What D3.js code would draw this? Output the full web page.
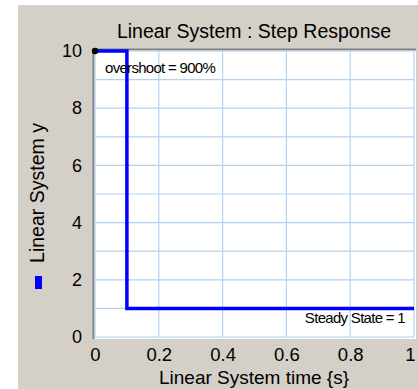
<!DOCTYPE html>
<html>
<head>
<meta charset="utf-8">
<script src="https://cdn.jsdelivr.net/npm/d3@7"></script>
<style>
  html, body { margin: 0; padding: 0; background: #ffffff; }
  svg { display: block; }
  text { font-family: "Liberation Sans", Arial, sans-serif; fill: #000; }
</style>
</head>
<body>
<svg id="chart" width="418" height="389"></svg>
<script>
// Step response of the linear system: value held until the step, then steady state
const timeValues = [0, 0.1, 0.1, 1.0];
const responseValues = [10, 10, 1, 1];
const xTicks = [0, 0.2, 0.4, 0.6, 0.8, 1];
const xTickLabels = ["0", "0.2", "0.4", "0.6", "0.8", "1"];
const yTicks = [0, 2, 4, 6, 8, 10];
const yGrid = [0, 1, 2, 3, 4, 5, 6, 7, 8, 9, 10];
const overshootPct = 900;
const steadyState = 1;

const svg = d3.select("#chart");
const W = 418, H = 389;

// window panel
svg.append("rect").attr("x", 18).attr("y", 5).attr("width", W - 18).attr("height", H - 5)
  .attr("fill", "#d4d0c8");

const x = d3.scaleLinear().domain([0, 1]).range([95, 414]);
const y = d3.scaleLinear().domain([0, 10]).range([337, 51]);

// plot frame (sunken)
const fx0 = 93, fy0 = 49, fx1 = 416, fy1 = 339;
svg.append("rect").attr("x", fx0).attr("y", fy0).attr("width", fx1 - fx0).attr("height", fy1 - fy0)
  .attr("fill", "#ffffff");
svg.append("path").attr("d", `M${fx0 + 0.5},${fy1} V${fy0 + 0.5} H${fx1}`)
  .attr("fill", "none").attr("stroke", "#808080").attr("stroke-width", 2);
svg.append("path").attr("d", `M${fx0 + 2},${fy1 - 0.5} H${fx1 - 0.5} V${fy0 + 2}`)
  .attr("fill", "none").attr("stroke", "#ffffff").attr("stroke-width", 1);

// grid
const grid = svg.append("g").attr("stroke", "#b4d2f0").attr("stroke-width", 1.2);
grid.selectAll("line.v").data(xTicks).join("line").attr("class", "v")
  .attr("x1", d => x(d)).attr("x2", d => x(d)).attr("y1", y(0)).attr("y2", y(10));
grid.selectAll("line.h").data(yGrid).join("line").attr("class", "h")
  .attr("x1", x(0)).attr("x2", x(1)).attr("y1", d => y(d)).attr("y2", d => y(d));

// axes
const xAxis = svg.append("g").attr("transform", `translate(0,${y(0)})`)
  .call(d3.axisBottom(x).tickValues(xTicks).tickFormat((d, i) => xTickLabels[i]).tickSize(0).tickPadding(11));
xAxis.select(".domain").remove();
xAxis.selectAll("text").style("font-size", "18.5px").attr("fill", "#000");
// last label sits against the window edge
xAxis.selectAll(".tick").filter(d => d === 1).select("text").attr("text-anchor", "end").attr("dx", "1");

const yAxis = svg.append("g").attr("transform", `translate(${x(0)},0)`)
  .call(d3.axisLeft(y).tickValues(yTicks).tickSize(0).tickPadding(13));
yAxis.select(".domain").remove();
yAxis.selectAll("text").style("font-size", "18px").attr("fill", "#000");

// response line
const line = d3.line().x(d => x(d[0])).y(d => y(d[1]));
svg.append("path").datum(timeValues.map((t, i) => [t, responseValues[i]]))
  .attr("d", line).attr("fill", "none").attr("stroke", "#0000ff").attr("stroke-width", 3.5);

// start marker
svg.append("circle").attr("cx", x(timeValues[0])).attr("cy", y(responseValues[0])).attr("r", 3.2).attr("fill", "#000");

// annotations
svg.append("text").attr("x", 105).attr("y", 73).style("font-size", "15px").style("letter-spacing", "-0.7px")
  .text(`overshoot = ${overshootPct}%`);
svg.append("text").attr("x", 405).attr("y", 323).attr("text-anchor", "end").style("font-size", "15px")
  .style("letter-spacing", "-0.7px").text(`Steady State = ${steadyState}`);

// titles
svg.append("text").attr("x", 254).attr("y", 38).attr("text-anchor", "middle").style("font-size", "19.5px")
  .text("Linear System : Step Response");
svg.append("text").attr("x", 254).attr("y", 384).attr("text-anchor", "middle").style("font-size", "19px")
  .text("Linear System time {s}");
svg.append("text").attr("transform", "translate(44,193) rotate(-90)").attr("text-anchor", "middle")
  .style("font-size", "19.5px").text("Linear System y");

// legend swatch
svg.append("rect").attr("x", 35).attr("y", 276).attr("width", 7).attr("height", 13).attr("fill", "#0000ff");
</script>
</body>
</html>
